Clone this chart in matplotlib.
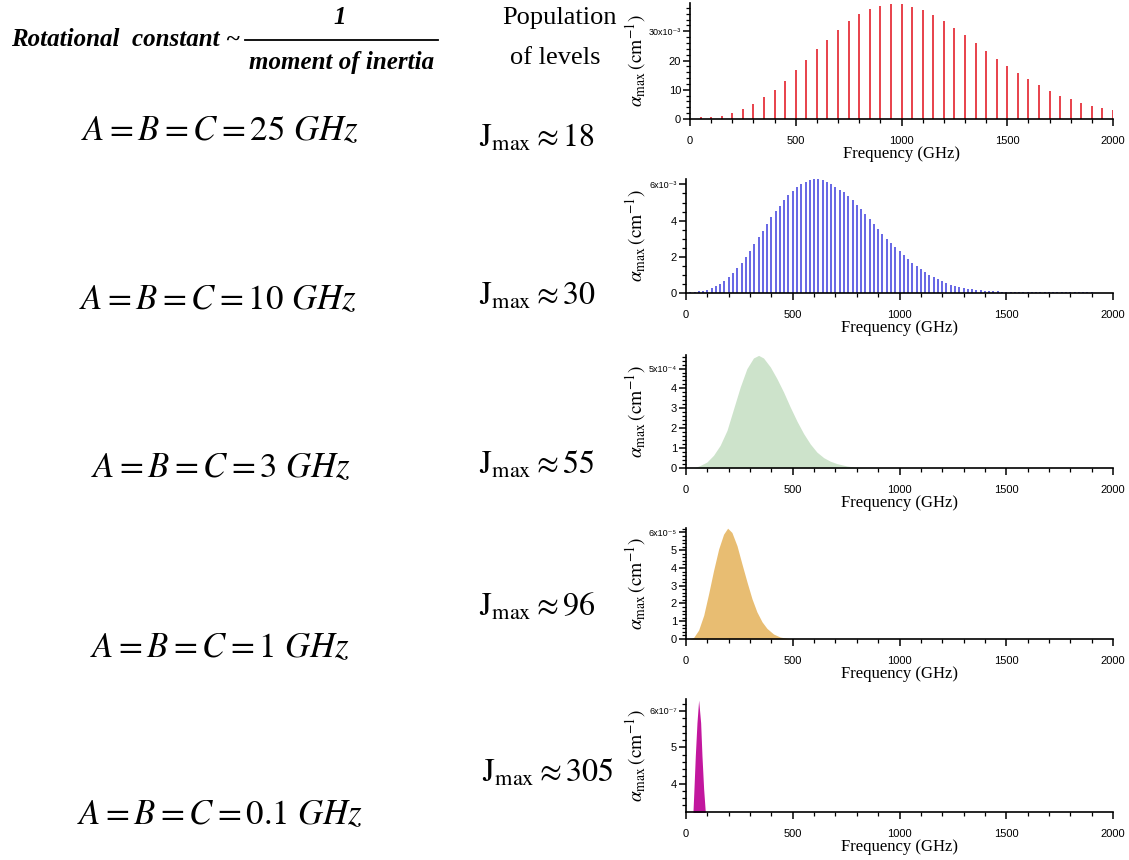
import matplotlib.pyplot as plt
from matplotlib.lines import Line2D
from matplotlib.ticker import MultipleLocator, FixedLocator, FixedFormatter
import numpy as np

plt.rcParams['mathtext.fontset'] = 'stix'
plt.rcParams['font.family'] = ['Liberation Sans', 'DejaVu Sans']

W, H = 1129, 860

# B = 25 GHz, lines every 50 GHz (alpha in 1e-3 cm^-1)
freq_25 = np.arange(50, 2001, 50)
alpha_25 = [0.6, 0.8, 1.1, 2.0, 3.3, 5.2, 7.4, 10.0, 13.1, 16.6,
            20.1, 23.8, 27.2, 30.5, 33.4, 35.9, 37.6, 38.7, 39.3, 39.3,
            38.5, 37.4, 35.7, 33.6, 31.3, 28.6, 26.1, 23.2, 20.7, 18.0,
            15.7, 13.7, 11.5, 9.7, 8.0, 6.8, 5.6, 4.6, 3.7, 3.0]

# B = 10 GHz, lines every 20 GHz (alpha in 1e-3 cm^-1)
freq_10 = np.arange(20, 1901, 20)
alpha_10 = [0.05, 0.07, 0.09, 0.13, 0.18, 0.26, 0.37, 0.52, 0.68, 0.89,
            1.09, 1.37, 1.68, 2.01, 2.34, 2.71, 3.08, 3.45, 3.82, 4.19,
            4.52, 4.83, 5.15, 5.39, 5.65, 5.85, 6.01, 6.16, 6.25, 6.29,
            6.29, 6.24, 6.14, 6.00, 5.85,
            5.70, 5.59, 5.37, 5.15, 4.89, 4.63, 4.34, 4.08, 3.82, 3.52,
            3.27, 3.01, 2.75, 2.53, 2.31, 2.08, 1.86, 1.68, 1.49, 1.31,
            1.16, 1.01, 0.89, 0.76, 0.65, 0.55, 0.46, 0.41, 0.33, 0.28,
            0.24, 0.20, 0.17, 0.15, 0.13, 0.11, 0.09, 0.09, 0.07, 0.07,
            0.06, 0.06, 0.06, 0.05, 0.05, 0.05, 0.05, 0.04, 0.04, 0.04,
            0.04, 0.04, 0.03, 0.03, 0.03, 0.03, 0.03, 0.03, 0.03, 0.03]

# B = 3 GHz, envelope of the dense line set (alpha in 1e-4 cm^-1)
freq_3 = [36, 67, 98, 129, 160, 192, 223, 254, 285, 316, 340, 363, 395,
          426, 457, 488, 520, 551, 582, 613, 645, 676, 707, 754, 801, 850]
alpha_3 = [0.0, 0.13, 0.30, 0.64, 1.14, 1.89, 2.98, 4.07, 4.99, 5.53, 5.66,
           5.53, 5.08, 4.49, 3.82, 3.07, 2.35, 1.73, 1.21, 0.80, 0.52,
           0.34, 0.22, 0.10, 0.03, 0.0]

# B = 1 GHz envelope (alpha in 1e-5 cm^-1)
freq_1 = [20, 36, 59, 83, 106, 129, 153, 176, 195, 215, 239, 262, 286,
          309, 332, 356, 379, 410, 441, 473, 496]
alpha_1 = [0.0, 0.09, 0.5, 1.34, 2.55, 3.85, 5.07, 5.9, 6.24, 6.0, 5.25,
           4.23, 3.2, 2.27, 1.53, 0.97, 0.6, 0.28, 0.11, 0.04, 0.0]

# B = 0.1 GHz envelope (alpha in 1e-7 cm^-1)
freq_01 = [32.6, 37.3, 43.6, 51.4, 59.2, 68.6, 74.8, 82.6, 90.4]
alpha_01 = [3.22, 3.86, 4.77, 5.68, 6.30, 5.68, 4.77, 3.86, 3.22]

labels_B = ['$A = B = C = 25\\ GHz$', '$A = B = C = 10\\ GHz$',
            '$A = B = C = 3\\ GHz$', '$A = B = C = 1\\ GHz$',
            '$A = B = C = 0.1\\ GHz$']
labels_J = ['18', '30', '55', '96', '305']


def px(x, y):
    return x / W, 1 - y / H


def panel(left, right, bottom, top, ylim, minor, ticks, top_label):
    l, b = px(left, bottom)
    r, t = px(right, top)
    ax = fig.add_axes([l, b, r - l, t - b])
    ax.set_xlim(0, 2000)
    ax.set_ylim(*ylim)
    for s in ['top', 'right']:
        ax.spines[s].set_visible(False)
    for s in ['left', 'bottom']:
        ax.spines[s].set_linewidth(1.2)
    ax.xaxis.set_major_locator(MultipleLocator(500))
    ax.xaxis.set_minor_locator(MultipleLocator(100))
    ax.yaxis.set_major_locator(FixedLocator(ticks))
    ax.yaxis.set_minor_locator(MultipleLocator(minor))
    tl = [('%g' % v) for v in ticks]
    tl[-1] = top_label
    ax.yaxis.set_major_formatter(FixedFormatter(tl))
    ax.tick_params(which='major', length=5, width=1.1, labelsize=8)
    ax.tick_params(which='minor', length=3, width=0.9)
    ax.tick_params(axis='x', pad=7)
    ax.tick_params(axis='y', pad=1.5)
    # the exponent label is set a little smaller
    ax.get_yticklabels()[-1].set_fontsize(6.5)
    ax.set_xlabel('Frequency (GHz)', family='Liberation Serif', fontsize=12,
                  labelpad=0)
    ax.set_ylabel(r'$\alpha_{\rm max}\,\left(\mathrm{cm}^{-1}\right)$',
                  fontsize=14)
    # the label's anchor is its right edge once rotated
    ax.yaxis.set_label_coords((648 - left) / (right - left), 0.5)
    return ax


fig = plt.figure(figsize=(W / 100, H / 100), dpi=100)

ax1 = panel(690, 1113, 119, 3, (0, 39.7), 2, [0, 10, 20, 30], '30x10⁻³')
ax1.vlines(freq_25, 0, alpha_25, color='#e8414b', lw=1.4)

ax2 = panel(686, 1113, 293, 179, (0, 6.3), 0.5, [0, 2, 4, 6], '6x10⁻³')
ax2.vlines(freq_10, 0, alpha_10, color='#4d4de0', lw=1.2)

ax3 = panel(686, 1113, 468, 355, (0, 5.68), 0.2, [0, 1, 2, 3, 4, 5],
            '5x10⁻⁴')
ax3.fill_between(freq_3, 0, alpha_3, color='#cde3cb', lw=0)

ax4 = panel(686, 1113, 639, 528, (0, 6.25), 0.2, [0, 1, 2, 3, 4, 5, 6],
            '6x10⁻⁵')
ax4.fill_between(freq_1, 0, alpha_1, color='#e8bd72', lw=0)

ax5 = panel(686, 1113, 812, 699, (3.22, 6.33), 0.2, [4, 5, 6], '6x10⁻⁷')
ax5.fill_between(freq_01, 0, alpha_01, color='#c2179e', lw=0)

# header: rotational constant relation
serif = 'Liberation Serif'
fig.text(*px(126, 40), 'Rotational  constant ~', family=serif,
         weight='bold', style='italic', fontsize=18, ha='center',
         va='center')
fig.add_artist(Line2D([245 / W, 438 / W], [1 - 40 / H] * 2, color='k',
                      lw=1.3))
fig.text(*px(340, 18), '1', family=serif, weight='bold', style='italic',
         fontsize=18, ha='center', va='center')
fig.text(*px(342, 63), 'moment of inertia', family=serif, weight='bold',
         style='italic', fontsize=18, ha='center', va='center')
fig.text(*px(559, 18), 'Population', family=serif, fontsize=19,
         ha='center', va='center')
fig.text(*px(555, 58), 'of levels', family=serif, fontsize=19,
         ha='center', va='center')

eq_y = [131, 300, 468, 648, 815]
eq_x = [220, 218, 221, 220, 220]
j_y = [138, 297, 465, 607, 773]
j_x = [537, 537, 537, 537, 548]
for i in range(5):
    fig.text(*px(eq_x[i], eq_y[i]), labels_B[i], fontsize=25,
             ha='center', va='center')
    fig.text(*px(j_x[i], j_y[i]),
             r'$\mathrm{J}_{\mathrm{max}} \approx %s$' % labels_J[i],
             fontsize=23, ha='center', va='center')

fig.savefig('out.png', dpi=100)
